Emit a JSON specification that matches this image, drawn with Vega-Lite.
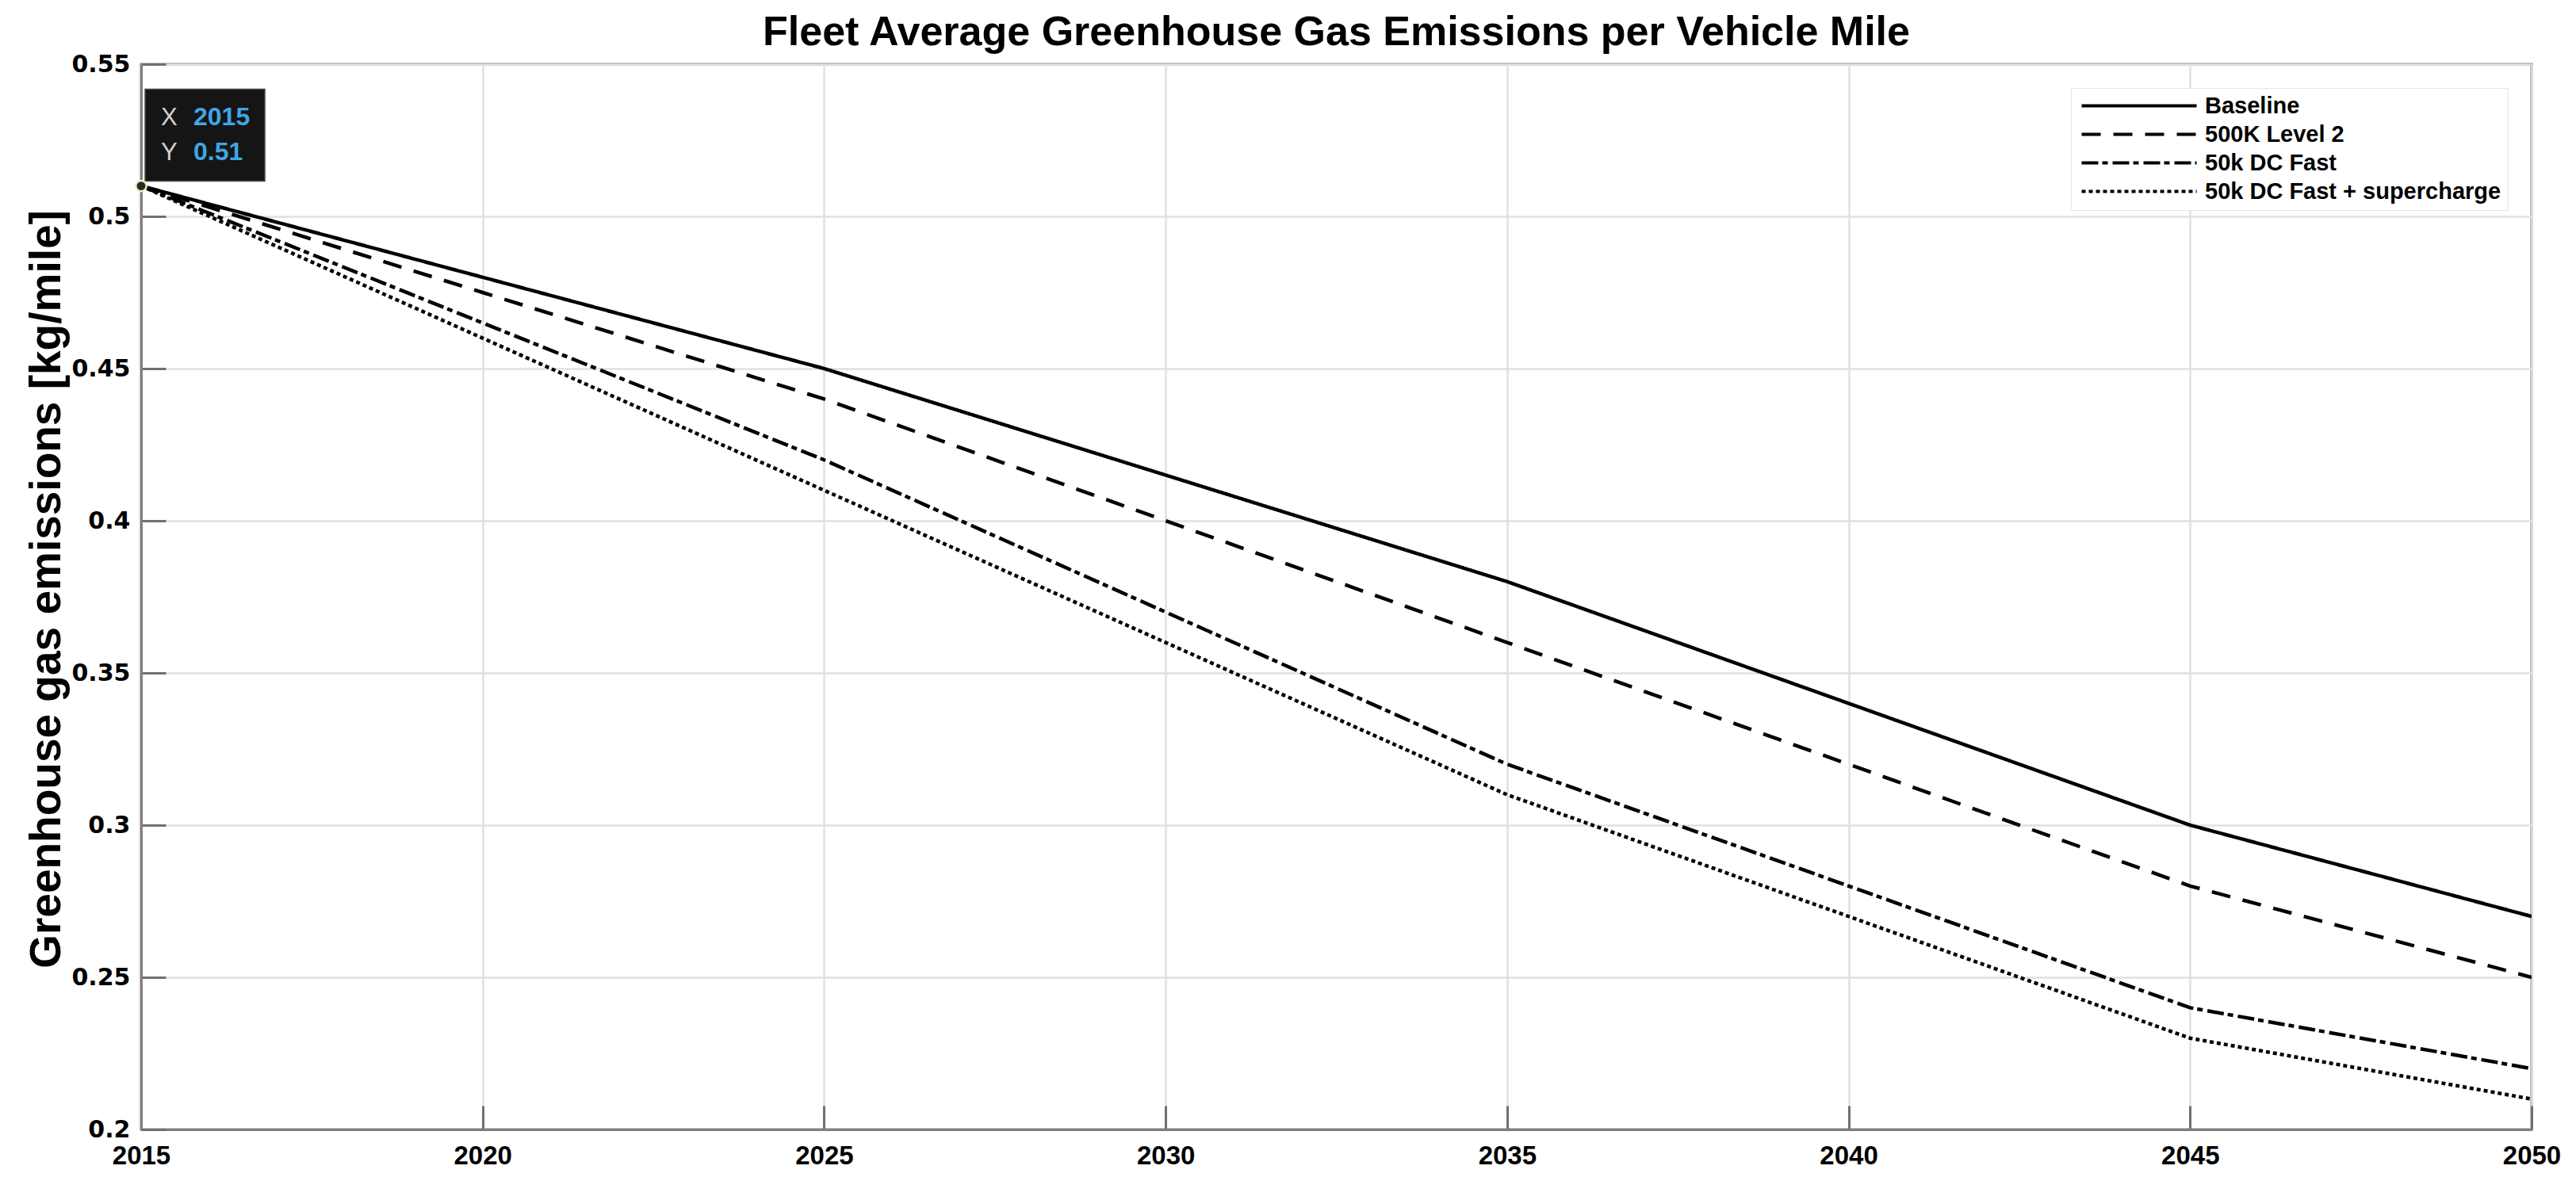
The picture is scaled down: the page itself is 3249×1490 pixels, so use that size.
{
  "$schema": "https://vega.github.io/schema/vega-lite/v6.json",
  "width": 3015,
  "height": 1344,
  "autosize": {"type": "none"},
  "padding": {"left": 178, "top": 81, "right": 56, "bottom": 65},
  "background": "white",
  "title": {
    "text": "Fleet Average Greenhouse Gas Emissions per Vehicle Mile",
    "font": "Liberation Sans",
    "fontSize": 52,
    "fontWeight": "bold",
    "color": "#000000",
    "anchor": "middle",
    "frame": "group",
    "baseline": "alphabetic",
    "offset": 19,
    "dy": 62
  },
  "config": {
    "view": {"stroke": "#808080", "strokeWidth": 3},
    "axis": {
      "domainColor": "#808080",
      "domainWidth": 3,
      "gridColor": "#e0e0e0",
      "gridWidth": 2.5,
      "tickColor": "#707070",
      "tickWidth": 3,
      "labelFont": "Liberation Sans",
      "labelFontWeight": "bold",
      "labelColor": "#000000",
      "titleFont": "Liberation Sans",
      "titleFontWeight": "bold",
      "titleColor": "#000000"
    },
    "legend": {
      "orient": "top-right",
      "offset": 30,
      "padding": 8,
      "fillColor": "#ffffff",
      "strokeColor": "#e6e6e6",
      "labelFont": "Liberation Sans",
      "labelFontWeight": "bold",
      "labelFontSize": 29,
      "labelColor": "#000000",
      "labelLimit": 1000,
      "rowPadding": 6
    }
  },
  "datasets": {
    "emissions": [
      {"year": 2015, "scenario": "Baseline", "value": 0.51},
      {"year": 2020, "scenario": "Baseline", "value": 0.48},
      {"year": 2025, "scenario": "Baseline", "value": 0.45},
      {"year": 2030, "scenario": "Baseline", "value": 0.415},
      {"year": 2035, "scenario": "Baseline", "value": 0.38},
      {"year": 2040, "scenario": "Baseline", "value": 0.34},
      {"year": 2045, "scenario": "Baseline", "value": 0.30},
      {"year": 2050, "scenario": "Baseline", "value": 0.27},
      {"year": 2015, "scenario": "500K Level 2", "value": 0.51},
      {"year": 2020, "scenario": "500K Level 2", "value": 0.475},
      {"year": 2025, "scenario": "500K Level 2", "value": 0.44},
      {"year": 2030, "scenario": "500K Level 2", "value": 0.40},
      {"year": 2035, "scenario": "500K Level 2", "value": 0.36},
      {"year": 2040, "scenario": "500K Level 2", "value": 0.32},
      {"year": 2045, "scenario": "500K Level 2", "value": 0.28},
      {"year": 2050, "scenario": "500K Level 2", "value": 0.25},
      {"year": 2015, "scenario": "50k DC Fast", "value": 0.51},
      {"year": 2020, "scenario": "50k DC Fast", "value": 0.465},
      {"year": 2025, "scenario": "50k DC Fast", "value": 0.42},
      {"year": 2030, "scenario": "50k DC Fast", "value": 0.37},
      {"year": 2035, "scenario": "50k DC Fast", "value": 0.32},
      {"year": 2040, "scenario": "50k DC Fast", "value": 0.28},
      {"year": 2045, "scenario": "50k DC Fast", "value": 0.24},
      {"year": 2050, "scenario": "50k DC Fast", "value": 0.22},
      {"year": 2015, "scenario": "50k DC Fast + supercharge", "value": 0.51},
      {"year": 2020, "scenario": "50k DC Fast + supercharge", "value": 0.46},
      {"year": 2025, "scenario": "50k DC Fast + supercharge", "value": 0.41},
      {"year": 2030, "scenario": "50k DC Fast + supercharge", "value": 0.36},
      {"year": 2035, "scenario": "50k DC Fast + supercharge", "value": 0.31},
      {"year": 2040, "scenario": "50k DC Fast + supercharge", "value": 0.27},
      {"year": 2045, "scenario": "50k DC Fast + supercharge", "value": 0.23},
      {"year": 2050, "scenario": "50k DC Fast + supercharge", "value": 0.21}
    ],
    "datatip": [
      {"year": 2015, "value": 0.51, "xLabel": "X", "xValue": "2015", "yLabel": "Y", "yValue": "0.51"}
    ]
  },
  "layer": [
    {
      "data": {"name": "emissions"},
      "mark": {"type": "line", "color": "#000000", "strokeWidth": 4.5, "clip": true},
      "encoding": {
        "x": {
          "field": "year",
          "type": "quantitative",
          "scale": {"domain": [2015, 2050], "nice": false, "zero": false},
          "axis": {
            "title": null,
            "values": [2015, 2020, 2025, 2030, 2035, 2040, 2045, 2050],
            "format": "d",
            "labelFontSize": 33,
            "tickSize": -30,
            "labelPadding": 47,
            "labelBaseline": "top",
            "labelFlush": false,
            "labelOverlap": false
          }
        },
        "y": {
          "field": "value",
          "type": "quantitative",
          "scale": {"domain": [0.2, 0.55], "nice": false, "zero": false},
          "axis": {
            "title": "Greenhouse gas emissions [kg/mile]",
            "titleFontSize": 55,
            "titleAngle": -90,
            "titleAlign": "center",
            "titleBaseline": "alphabetic",
            "titleX": -103,
            "titleY": 662,
            "values": [0.2, 0.25, 0.3, 0.35, 0.4, 0.45, 0.5, 0.55],
            "format": ".2~f",
            "labelFont": "DejaVu Sans",
            "labelFontSize": 30,
            "tickSize": -31,
            "labelPadding": 45,
            "labelBaseline": "middle",
            "labelFlush": false,
            "labelOverlap": false
          }
        },
        "strokeDash": {
          "field": "scenario",
          "type": "nominal",
          "scale": {
            "domain": ["Baseline", "500K Level 2", "50k DC Fast", "50k DC Fast + supercharge"],
            "range": [[1, 0], [24, 16], [21, 5, 7, 6], [5, 4]]
          },
          "legend": {
            "title": null,
            "symbolType": "M-0.9,0H13.6",
            "symbolSize": 400,
            "symbolStrokeColor": "#000000",
            "symbolStrokeWidth": 4,
            "labelOffset": 132
          }
        }
      }
    },
    {
      "data": {"name": "datatip"},
      "mark": {"type": "rect", "fill": "#151515", "stroke": "#4a4a4a", "strokeWidth": 1.5, "xOffset": 5, "x2Offset": 156, "yOffset": -122, "y2Offset": -6},
      "encoding": {
        "x": {"field": "year", "type": "quantitative"},
        "x2": {"field": "year"},
        "y": {"field": "value", "type": "quantitative"},
        "y2": {"field": "value"}
      }
    },
    {
      "data": {"name": "datatip"},
      "mark": {"type": "text", "align": "left", "baseline": "alphabetic", "dx": 25, "dy": -77, "font": "Liberation Sans", "fontSize": 31, "color": "#cfcfcf"},
      "encoding": {"x": {"field": "year", "type": "quantitative"}, "y": {"field": "value", "type": "quantitative"}, "text": {"field": "xLabel"}}
    },
    {
      "data": {"name": "datatip"},
      "mark": {"type": "text", "align": "left", "baseline": "alphabetic", "dx": 66, "dy": -77, "font": "Liberation Sans", "fontSize": 32, "fontWeight": "bold", "color": "#3fa6e6"},
      "encoding": {"x": {"field": "year", "type": "quantitative"}, "y": {"field": "value", "type": "quantitative"}, "text": {"field": "xValue"}}
    },
    {
      "data": {"name": "datatip"},
      "mark": {"type": "text", "align": "left", "baseline": "alphabetic", "dx": 25, "dy": -33, "font": "Liberation Sans", "fontSize": 31, "color": "#cfcfcf"},
      "encoding": {"x": {"field": "year", "type": "quantitative"}, "y": {"field": "value", "type": "quantitative"}, "text": {"field": "yLabel"}}
    },
    {
      "data": {"name": "datatip"},
      "mark": {"type": "text", "align": "left", "baseline": "alphabetic", "dx": 66, "dy": -33, "font": "Liberation Sans", "fontSize": 32, "fontWeight": "bold", "color": "#3fa6e6"},
      "encoding": {"x": {"field": "year", "type": "quantitative"}, "y": {"field": "value", "type": "quantitative"}, "text": {"field": "yValue"}}
    },
    {
      "data": {"name": "datatip"},
      "mark": {"type": "point", "filled": true, "fill": "#2a2a2a", "stroke": "#efefc4", "strokeWidth": 2.5, "size": 180, "opacity": 1},
      "encoding": {"x": {"field": "year", "type": "quantitative"}, "y": {"field": "value", "type": "quantitative"}}
    }
  ]
}
